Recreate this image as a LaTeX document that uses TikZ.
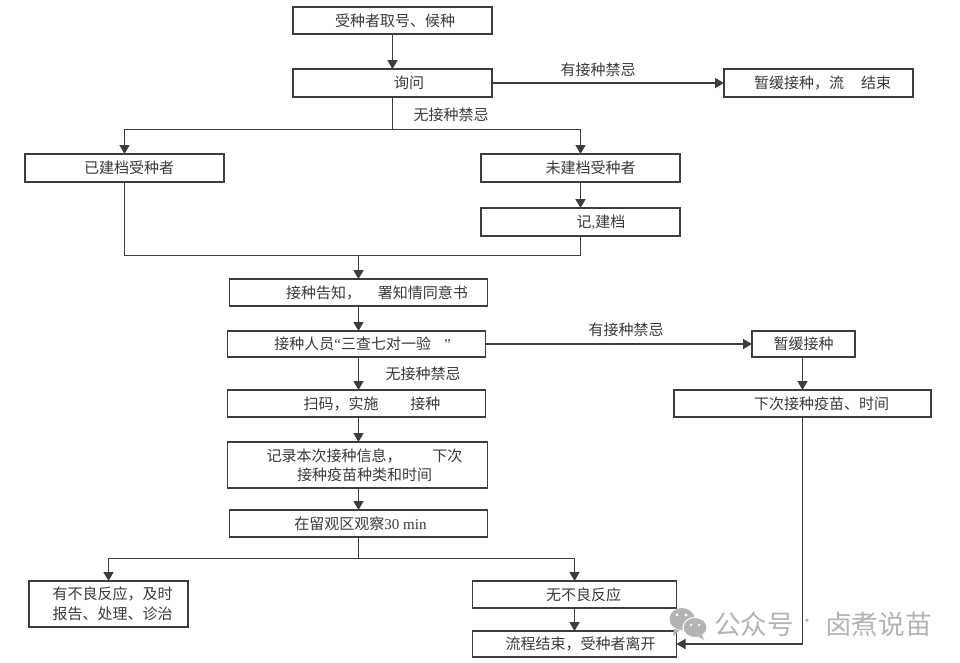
\documentclass[tikz,border=0pt]{standalone}
\usepackage{fontspec}
\usetikzlibrary{arrows.meta,calc}
\setmainfont{Noto Sans CJK SC}
\newfontfamily\lat{Liberation Serif}
\newlength\pxu \setlength\pxu{0.75pt}
\newcommand\pd[1]{\hspace*{#1\pxu}}
\newcommand\fc{\char"FF0C\relax}
\definecolor{ink}{HTML}{3A3A3A}
\definecolor{edge}{HTML}{403C3C}
\definecolor{wm}{HTML}{B4B4B4}
\tikzset{
  bx/.style={draw=edge,line width=1.05pt,fill=white,inner sep=0pt,outer sep=0pt,text=ink,font=\fontsize{11.25pt}{14.6pt}\selectfont,align=center,execute at begin node={\vspace*{1.5pt}}},
  lb/.style={inner sep=0pt,text=ink,font=\fontsize{11.25pt}{14pt}\selectfont},
  ar/.style={draw=edge,line width=1.25pt,-{Triangle[length=6.75pt,width=7.5pt]}},
  ln/.style={draw=edge,line width=1.25pt},
  wmt/.style={inner sep=0pt,text=wm,font=\fontsize{20pt}{22pt}\selectfont,anchor=west}
}
\begin{document}
\begin{tikzpicture}[x=0.75pt,y=-0.75pt]
\useasboundingbox (0,0) rectangle (960,662);
% boxes
\node[bx,minimum width=199\pxu,minimum height=27\pxu] (A) at (392.5,20.5) {\pd{5}受种者取号、候种};
\node[bx,minimum width=199\pxu,minimum height=28\pxu] (B) at (392.5,83) {\pd{33}询问};
\node[bx,minimum width=189\pxu,minimum height=28\pxu] (C) at (818.5,83) {\pd{8}暂缓接种\fc 流\hspace{17\pxu}结束};
\node[bx,minimum width=199\pxu,minimum height=28\pxu] (D) at (124.5,168) {\pd{9}已建档受种者};
\node[bx,minimum width=199\pxu,minimum height=28\pxu] (E) at (580.5,168) {\pd{20}未建档受种者};
\node[bx,minimum width=199\pxu,minimum height=28\pxu] (F) at (580.5,222) {\pd{41}记{\lat ,}建档};
\node[bx,minimum width=258\pxu,minimum height=27\pxu] (G) at (358.5,292.5) {\pd{37}接种告知\fc\hspace{17\pxu}署知情同意书};
\node[bx,minimum width=258\pxu,minimum height=26\pxu] (H) at (356.5,344) {\pd{12}接种人员{\lat “}三查七对一验\hspace{13\pxu}{\lat ”}};
\node[bx,minimum width=258\pxu,minimum height=27\pxu] (I) at (356.5,403.5) {\pd{31}扫码\fc 实施\hspace{32\pxu}接种};
\node[bx,minimum width=260\pxu,minimum height=46\pxu] (J) at (357.5,465) {\pd{14}记录本次接种信息\fc\hspace{31\pxu}下次\\\pd{14}接种疫苗种类和时间};
\node[bx,minimum width=258\pxu,minimum height=27\pxu] (K) at (358.5,523.5) {\pd{4}在留观区观察{\lat 30 min}};
\node[bx,minimum width=103\pxu,minimum height=26\pxu] (L) at (803.5,344) {暂缓接种};
\node[bx,minimum width=257\pxu,minimum height=27\pxu] (M) at (802.5,403.5) {\pd{38}下次接种疫苗、时间};
\node[bx,minimum width=159\pxu,minimum height=46\pxu] (N) at (108.5,604) {\pd{8}有不良反应\fc 及时\\\pd{8}报告、处理、诊治};
\node[bx,minimum width=204\pxu,minimum height=27\pxu] (O) at (574.5,594.5) {\pd{18}无不良反应};
\node[bx,minimum width=204\pxu,minimum height=26\pxu] (P) at (574.5,644) {\pd{12}流程结束\fc 受种者离开};
% labels
\node[lb] (l1) at (598,70) {有接种禁忌};
\node[lb] (l2) at (451,115) {无接种禁忌};
\node[lb] (l3) at (626,330) {有接种禁忌};
\node[lb] (l4) at (423,374) {无接种禁忌};
% junctions
\coordinate (j1) at (392.5,129.5);
\coordinate (j1l) at (124.5,129.5);
\coordinate (j1r) at (580.5,129.5);
\coordinate (j2) at (358.5,255.5);
\coordinate (j2l) at (124.5,255.5);
\coordinate (j2r) at (580.5,255.5);
\coordinate (j3) at (358.5,558.5);
\coordinate (j3l) at (108.5,558.5);
\coordinate (j3r) at (574.5,558.5);
\coordinate (j4) at (802.5,644);
% connectors
\draw[ar] (A) -- (B);
\draw[ar] (B) -- (C);
\draw[ln] (B) -- (j1);
\draw[ar] (j1) -- (j1l) -- (D);
\draw[ar] (j1) -- (j1r) -- (E);
\draw[ar] (E) -- (F);
\draw[ln] (D) -- (j2l) -- (j2r) -- (F);
\draw[ar] (j2) -- (G);
\draw[ar] (G.south) -- (G.south |- H.north);
\draw[ar] (H.south -| G.south) -- (G.south |- I.north);
\draw[ar] (I.south -| G.south) -- (G.south |- J.north);
\draw[ar] (J.south -| G.south) -- (G.south |- K.north);
\draw[ar] (H) -- (L);
\draw[ar] (L.south -| M.south) -- (M.north);
\draw[ln] (K) -- (j3);
\draw[ar] (j3) -- (j3l) -- (N);
\draw[ar] (j3) -- (j3r) -- (O);
\draw[ar] (O) -- (P);
\draw[ar] (M) -- (j4) -- (P);
% watermark
\fill[wm] (682,619) ellipse (12.5 and 11);
\fill[wm] (674,629) -- (673,636) -- (680,630) -- cycle;
\draw[fill=wm,draw=white,line width=0.75pt] (695,627.5) ellipse (12 and 10);
\fill[wm] (702,635) -- (704,640) -- (698,636.5) -- cycle;
\fill[white] (677,615) circle (1.7) (686,615) circle (1.7) (691,625) circle (1.4) (699,625) circle (1.4);
\node[wmt] (w1) at (714,624) {公众号};
\node[wmt,font=\fontsize{20pt}{22pt}\lat,anchor=center] (w2) at (807,624) {·};
\node[wmt] (w3) at (825,624) {卤煮说苗};
\end{tikzpicture}
\end{document}
